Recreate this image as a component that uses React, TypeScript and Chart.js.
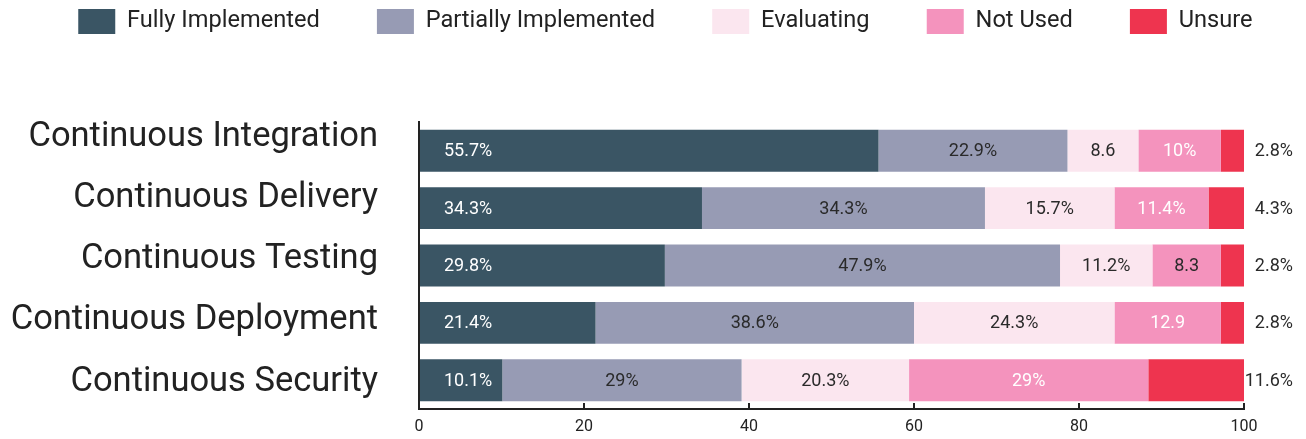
import React, { useEffect, useRef } from 'react';
import { Chart, registerables } from 'chart.js';

Chart.register(...registerables);

const categories = [
  'Continuous Integration',
  'Continuous Delivery',
  'Continuous Testing',
  'Continuous Deployment',
  'Continuous Security',
];
const seriesNames = ['Fully Implemented', 'Partially Implemented', 'Evaluating', 'Not Used', 'Unsure'];

const fullyImplemented = [55.7, 34.3, 29.8, 21.4, 10.1];
const partiallyImplemented = [22.9, 34.3, 47.9, 38.6, 29];
const evaluating = [8.6, 15.7, 11.2, 24.3, 20.3];
const notUsed = [10, 11.4, 8.3, 12.9, 29];
const unsure = [2.8, 4.3, 2.8, 2.8, 11.6];

const fullyLabels = ['55.7%', '34.3%', '29.8%', '21.4%', '10.1%'];
const partialLabels = ['22.9%', '34.3%', '47.9%', '38.6%', '29%'];
const evaluatingLabels = ['8.6', '15.7%', '11.2%', '24.3%', '20.3%'];
const notUsedLabels = ['10%', '11.4%', '8.3', '12.9', '29%'];
const unsureLabels = ['2.8%', '4.3%', '2.8%', '2.8%', '11.6%'];

const xTicks = [0, 20, 40, 60, 80, 100];

const seriesValues = [fullyImplemented, partiallyImplemented, evaluating, notUsed, unsure];
const seriesLabels = [fullyLabels, partialLabels, evaluatingLabels, notUsedLabels, unsureLabels];

// styles
const SERIES_COLORS = ['#3a5564', '#979bb4', '#fbe6ef', '#f493bd', '#ee344f'];
const W = '#ffffff';
const D = '#2a2a2a';
const LABEL_COLORS = [
  [W, W, W, W, W],
  [D, D, D, D, D],
  [D, D, D, D, D],
  [W, W, D, W, W],
  [D, D, D, D, D],
];
const LABEL_MODE = ['start', 'center', 'center', 'center', 'outside'];
const FONT = 'Roboto';

const barLabels = {
  id: 'barLabels',
  afterDatasetsDraw(chart: any) {
    const ctx = chart.ctx;
    const area = chart.chartArea;
    ctx.save();
    ctx.font = `18px ${FONT}`;
    ctx.textBaseline = 'middle';
    chart.data.datasets.forEach((_ds: any, i: number) => {
      const meta = chart.getDatasetMeta(i);
      meta.data.forEach((el: any, j: number) => {
        const { x, base, y } = el.getProps(['x', 'base', 'y'], true);
        const text = seriesLabels[i][j];
        let tx: number;
        if (LABEL_MODE[i] === 'start') {
          tx = Math.min(x, base) + 24;
          ctx.textAlign = 'left';
        } else if (LABEL_MODE[i] === 'outside') {
          tx = area.right + 49;
          ctx.textAlign = 'right';
        } else {
          tx = (x + base) / 2;
          ctx.textAlign = 'center';
        }
        ctx.fillStyle = LABEL_COLORS[i][j];
        ctx.fillText(text, tx, y + 1);
      });
    });
    ctx.restore();
  },
};

export default function App() {
  const canvasRef = useRef<HTMLCanvasElement | null>(null);

  useEffect(() => {
    document.body.style.overflow = 'hidden';
    const canvas = canvasRef.current;
    if (!canvas) return;
    const chart = new Chart(canvas, {
      type: 'bar',
      data: {
        labels: categories,
        datasets: seriesValues.map((d, i) => ({
          label: seriesNames[i],
          data: d,
          backgroundColor: SERIES_COLORS[i],
          borderWidth: 0,
          barPercentage: 0.73,
          categoryPercentage: 1,
          xAxisID: 'x',
          yAxisID: 'y',
        })),
      },
      options: {
        indexAxis: 'y',
        responsive: true,
        maintainAspectRatio: false,
        animation: false,
        layout: { padding: { top: -44.5, left: 0, right: 0, bottom: 0 } },
        plugins: {
          legend: {
            position: 'top',
            align: 'end',
            labels: {
              boxWidth: 37,
              boxHeight: 25,
              padding: 45.5,
              color: '#222',
              font: { family: FONT, size: 23.6 },
              generateLabels: (chart: any) => {
                const items = (Chart as any).defaults.plugins.legend.labels.generateLabels(chart);
                return items.map((it: any, i: number) => ({
                  ...it,
                  text: i < items.length - 1 ? it.text + '  ' : it.text,
                }));
              },
            },
          },
          subtitle: {
            display: true,
            text: '',
            position: 'top',
            weight: 500,
            padding: { top: 66, bottom: 0 },
            font: { size: 10 },
          },
          tooltip: { enabled: false },
        },
        scales: {
          x: {
            type: 'linear',
            stacked: true,
            min: 0,
            max: 100,
            position: 'bottom',
            afterBuildTicks: (s: any) => {
              s.ticks = xTicks.map((v) => ({ value: v }));
            },
            afterFit: (s: any) => {
              s.height = 22;
            },
            grid: {
              display: true,
              drawOnChartArea: false,
              drawTicks: true,
              tickLength: -6,
              color: '#222',
              lineWidth: 2,
            },
            border: { display: true, color: '#222', width: 2 },
            ticks: { padding: 14, color: '#222', font: { family: FONT, size: 16 } },
          },
          y: {
            type: 'category',
            stacked: true,
            display: false,
          },
          yl: {
            type: 'linear',
            position: 'left',
            reverse: true,
            offset: false,
            min: -0.196,
            max: 4.49,
            weight: 10,
            grid: { display: false, drawTicks: false, offset: false },
            border: { display: true, color: '#222', width: 2 },
            afterBuildTicks: (s: any) => {
              s.ticks = categories.map((_c, i) => ({ value: i }));
            },
            afterFit: (s: any) => {
              s.width = 411;
              s.paddingTop = 0;
              s.paddingBottom = 0;
            },
            ticks: {
              padding: 41,
              labelOffset: 3,
              color: '#222',
              font: { family: FONT, size: 34.5 },
              callback: (v: any) => categories[v] ?? '',
            },
          },
          yr: {
            type: 'linear',
            position: 'right',
            offset: false,
            min: 0,
            max: 1,
            grid: { display: false, drawTicks: false },
            border: { display: false },
            ticks: { display: false },
            afterFit: (s: any) => {
              s.width = 54;
              s.paddingTop = 0;
              s.paddingBottom = 0;
            },
          },
        },
      },
      plugins: [barLabels],
    } as any);
    return () => chart.destroy();
  }, []);

  return (
    <div style={{ position: 'relative', width: '100%', height: 423 }}>
      <canvas ref={canvasRef} />
    </div>
  );
}
